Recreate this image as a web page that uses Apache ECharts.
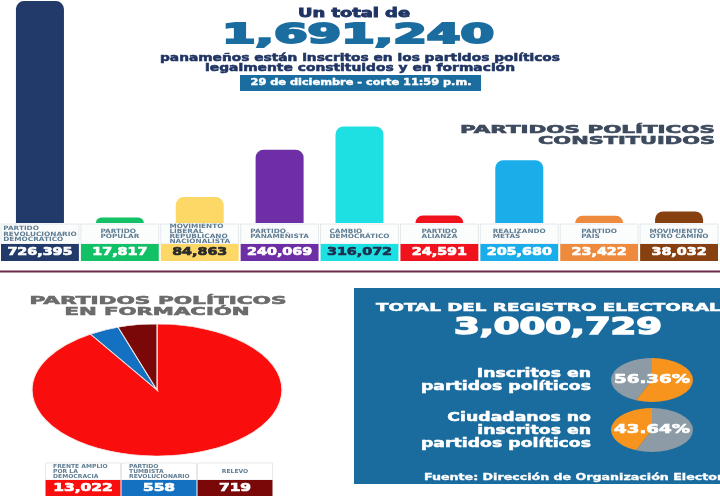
<!DOCTYPE html>
<html><head><meta charset="utf-8">
<script src="https://cdn.jsdelivr.net/npm/echarts@6/dist/echarts.min.js"></script>
<style>html,body{margin:0;padding:0;background:#fff}#c{width:720px;height:500px}</style>
</head><body><div id="c"></div>
<script>
// ---- data ----
const partyNames = [
  'PARTIDO\nREVOLUCIONARIO\nDEMOCRÁTICO',
  'PARTIDO\nPOPULAR',
  'MOVIMIENTO\nLIBERAL\nREPUBLICANO\nNACIONALISTA',
  'PARTIDO\nPANAMEÑISTA',
  'CAMBIO\nDEMOCRÁTICO',
  'PARTIDO\nALIANZA',
  'REALIZANDO\nMETAS',
  'PARTIDO\nPAÍS',
  'MOVIMIENTO\nOTRO CAMINO'
];
const partyValues = [726395, 17817, 84863, 240069, 316072, 24591, 205680, 23422, 38032];
const partyColors = ['#213a6a', '#12c065', '#fdd866', '#6d2ea6', '#1ee0e3', '#f0121c', '#1bade9', '#ee8a3e', '#87400f'];
const partyValueTextColors = ['#ffffff', '#ffffff', '#2a2a2a', '#ffffff', '#1d2f4f', '#ffffff', '#ffffff', '#ffffff', '#ffffff'];

const formNames = ['FRENTE AMPLIO\nPOR LA\nDEMOCRACIA', 'PARTIDO\nTUMBISTA\nREVOLUCIONARIO', 'RELEVO'];
const formValues = [13022, 558, 719];
const formColors = ['#fa0d0d', '#1470c0', '#7a0808'];

const registryTotal = [3000729];
const registryLabels = ['Inscritos en\npartidos políticos', 'Ciudadanos no\ninscritos en\npartidos políticos'];
const registryShares = [56.36, 43.64];

const fmt = v => v.toLocaleString('en-US');
const totalInscritos = partyValues.reduce((a, b) => a + b, 0) + formValues.reduce((a, b) => a + b, 0);

// ---- helpers ----
const FF = '"DejaVu Sans", sans-serif';
const mctx = document.createElement('canvas').getContext('2d');
function tw(text, size) { mctx.font = 'bold ' + size + 'px ' + FF; return mctx.measureText(text).width; }
function fitText(text, x, y, targetW, size, color, align, heavy) {
  align = align || 'center';
  const lines = text.split('\n');
  const w = Math.max.apply(null, lines.map(l => tw(l, size)));
  const st = { text: text, fill: color, font: 'bold ' + size + 'px ' + FF, align: align, verticalAlign: 'middle', textAlign: align, textVerticalAlign: 'middle' };
  if (heavy) { st.stroke = color; st.lineWidth = heavy; }
  return { type: 'text', x: x, y: y, scaleX: targetW / w, z: 100, silent: true, style: st };
}
function heavyStyle(s, color, lw) { s.stroke = color; s.lineWidth = lw; return s; }

const chart = echarts.init(document.getElementById('c'));

const graphics = [
  { type: 'rect', z: 0, silent: true, shape: { x: 354, y: 288, width: 370, height: 196 }, style: { fill: '#1a6b9e' } },
  { type: 'rect', z: 0, silent: true, shape: { x: 0, y: 270.5, width: 720, height: 2 }, style: { fill: '#6b2a4a' } },
  { type: 'rect', z: 0, silent: true, shape: { x: 240, y: 75, width: 241, height: 16 }, style: { fill: '#1b6da0' } },
  fitText('Un total de', 354, 14, 112, 12, '#1f3463', 'center', 0.8),
  fitText(fmt(totalInscritos), 358, 35.5, 272, 27, '#1b6da0', 'center', 2),
  fitText('panameños están inscritos en los partidos políticos', 360, 58, 400, 10, '#1f3463', 'center', 0.5),
  fitText('legalmente constituidos y en formación', 360, 68.5, 310, 10, '#1f3463', 'center', 0.5),
  fitText('29 de diciembre - corte 11:59 p.m.', 361, 83, 221, 8, '#ffffff', 'center', 0.4),
  fitText('PARTIDOS POLÍTICOS', 715, 130, 255, 11, '#3d4a5e', 'right', 0.6),
  fitText('CONSTITUIDOS', 715, 141, 177, 11, '#3d4a5e', 'right', 0.6),
  fitText('PARTIDOS POLÍTICOS', 158, 301.5, 257, 11, '#6b6b6b', 'center', 0.6),
  fitText('EN FORMACIÓN', 157, 312.5, 185, 11, '#6b6b6b', 'center', 0.6),
  fitText('TOTAL DEL REGISTRO ELECTORAL:', 376, 308, 352, 10, '#ffffff', 'left', 0.5),
  fitText(fmt(registryTotal[0]), 558, 328.5, 208, 23, '#ffffff', 'center', 1.4),
  fitText('Fuente: Dirección de Organización Electoral', 424, 478, 312, 8, '#ffffff', 'left', 0.3)
];

const option = {
  animation: false,
  backgroundColor: '#ffffff',
  grid: [
    { left: -4, right: 1, top: 0, bottom: 277, containLabel: false },
    { left: 45, width: 228, top: 463, height: 34, containLabel: false }
  ],
  xAxis: [
    { type: 'category', gridIndex: 0, data: partyNames, show: false },
    { type: 'category', gridIndex: 1, data: formNames, show: false }
  ],
  yAxis: [
    { type: 'value', gridIndex: 0, min: 0, max: 730000, show: false },
    { type: 'value', gridIndex: 1, min: 0, max: 20000, show: false }
  ],
  graphic: { elements: graphics },
  series: [
    {
      type: 'bar', xAxisIndex: 0, yAxisIndex: 0, barWidth: 48, silent: true,
      data: partyValues.map((v, i) => ({ value: v, itemStyle: { color: partyColors[i], borderRadius: [8, 8, 0, 0] } }))
    },
    {
      type: 'custom', xAxisIndex: 0, yAxisIndex: 0, silent: true, clip: false, z: 5,
      data: partyValues.map((v, i) => [i, v]),
      encode: { x: 0, y: 1 },
      renderItem: function (params, api) {
        const i = params.dataIndex;
        const base = api.coord([i, 0]);
        const bw = api.size([1, 0])[0];
        const left = base[0] - bw / 2;
        const top = base[1] + 1;
        const lines = partyNames[i].split('\n');
        const ns = 1.22;
        const maxW = Math.max.apply(null, lines.map(l => tw(l, 6))) * ns;
        return {
          type: 'group', children: [
            { type: 'rect', shape: { x: left + 1, y: top, width: bw - 2, height: 20 }, style: { fill: '#fbfcfc', stroke: '#e4e8eb', lineWidth: 1 } },
            { type: 'text', x: base[0] - maxW / 2, y: top + 10, scaleX: ns, style: { text: partyNames[i], font: 'bold 6px ' + FF, fill: '#5e7c92', align: 'left', verticalAlign: 'middle', textAlign: 'left', textVerticalAlign: 'middle', lineHeight: 5.2 } },
            { type: 'rect', shape: { x: left + 1, y: top + 20, width: bw - 2, height: 17 }, style: { fill: partyColors[i] } },
            { type: 'text', x: base[0], y: top + 28.5, scaleX: 1.3, style: heavyStyle({ text: fmt(partyValues[i]), font: 'bold 11px ' + FF, fill: partyValueTextColors[i], align: 'center', verticalAlign: 'middle', textAlign: 'center', textVerticalAlign: 'middle' }, partyValueTextColors[i], 0.7) }
          ]
        };
      }
    },
    {
      type: 'custom', coordinateSystem: 'none', silent: true, z: 3,
      data: formValues.map((v, i) => [i, v]),
      renderItem: function (params, api) {
        const i = params.dataIndex;
        const total = formValues.reduce((a, b) => a + b, 0);
        const before = formValues.slice(0, i).reduce((a, b) => a + b, 0);
        const v = api.value(1);
        const a0 = -Math.PI / 2 + before / total * 2 * Math.PI;
        const a1 = a0 + v / total * 2 * Math.PI;
        return {
          type: 'sector', x: 157, y: 390, scaleY: 66 / 125,
          shape: { cx: 0, cy: 0, r: 125, r0: 0, startAngle: a0, endAngle: a1, clockwise: true },
          style: { fill: formColors[i], stroke: '#f4eaea', lineWidth: 1.2 }
        };
      }
    },
    {
      type: 'custom', xAxisIndex: 1, yAxisIndex: 1, silent: true, clip: false, z: 5,
      data: formValues.map((v, i) => [i, v]),
      encode: { x: 0, y: 1 },
      renderItem: function (params, api) {
        const i = params.dataIndex;
        const c = api.coord([i, 0]);
        const bw = api.size([1, 0])[0];
        const left = c[0] - bw / 2;
        const top = params.coordSys.y;
        const lines = formNames[i].split('\n');
        const ns = 1.1;
        const maxW = Math.max.apply(null, lines.map(l => tw(l, 5.5))) * ns;
        const tx = lines.length > 1 ? left + 8 : c[0] - maxW / 2;
        return {
          type: 'group', children: [
            { type: 'rect', shape: { x: left + 0.5, y: top, width: bw - 1, height: 17 }, style: { fill: '#ffffff', stroke: '#e6e9ec', lineWidth: 1 } },
            { type: 'text', x: tx, y: top + 8.5, scaleX: ns, style: { text: formNames[i], font: 'bold 5.5px ' + FF, fill: '#5e7c92', align: 'left', verticalAlign: 'middle', textAlign: 'left', textVerticalAlign: 'middle', lineHeight: 4.6 } },
            { type: 'rect', shape: { x: left + 0.5, y: top + 17, width: bw - 1, height: 16 }, style: { fill: formColors[i] } },
            { type: 'text', x: c[0], y: top + 25, scaleX: 1.4, style: heavyStyle({ text: fmt(formValues[i]), font: 'bold 11px ' + FF, fill: '#ffffff', align: 'center', verticalAlign: 'middle', textAlign: 'center', textVerticalAlign: 'middle' }, '#ffffff', 0.7) }
          ]
        };
      }
    },
    {
      type: 'custom', coordinateSystem: 'none', silent: true, z: 6,
      data: registryShares.map((v, k) => [k, v]),
      renderItem: function (params, api) {
        const k = params.dataIndex;
        const share = api.value(1);
        const cx = 652, cy = 380 + k * 50, rx = 41, ry = 22;
        const frac = share / 100 * 2 * Math.PI;
        const top = -Math.PI / 2;
        const orange = k === 0 ? [top, top + frac] : [top - frac, top];
        const gray = k === 0 ? [top + frac, top + 2 * Math.PI] : [top, top + 2 * Math.PI - frac];
        const pctW = 76;
        const pctText = share.toFixed(2) + '%';
        const pw = tw(pctText, 12);
        const lab = registryLabels[k];
        const lw = Math.max.apply(null, lab.split('\n').map(l => tw(l, 12)));
        return {
          type: 'group', children: [
            { type: 'sector', x: cx, y: cy, scaleY: ry / rx, shape: { cx: 0, cy: 0, r: rx, r0: 0, startAngle: gray[0], endAngle: gray[1], clockwise: true }, style: { fill: '#8c9ba5' } },
            { type: 'sector', x: cx, y: cy, scaleY: ry / rx, shape: { cx: 0, cy: 0, r: rx, r0: 0, startAngle: orange[0], endAngle: orange[1], clockwise: true }, style: { fill: '#f7941e' } },
            { type: 'text', x: cx, y: cy, scaleX: pctW / pw, style: heavyStyle({ text: pctText, font: 'bold 12px ' + FF, fill: '#ffffff', align: 'center', verticalAlign: 'middle', textAlign: 'center', textVerticalAlign: 'middle' }, '#ffffff', 0.6) },
            { type: 'text', x: 591, y: cy + 0.5, scaleX: 170 / lw, style: heavyStyle({ text: lab, font: 'bold 12px ' + FF, fill: '#ffffff', align: 'right', verticalAlign: 'middle', textAlign: 'right', textVerticalAlign: 'middle', lineHeight: 13 }, '#ffffff', 0.5) }
          ]
        };
      }
    }
  ]
};
chart.setOption(option);
</script>
</body></html>
